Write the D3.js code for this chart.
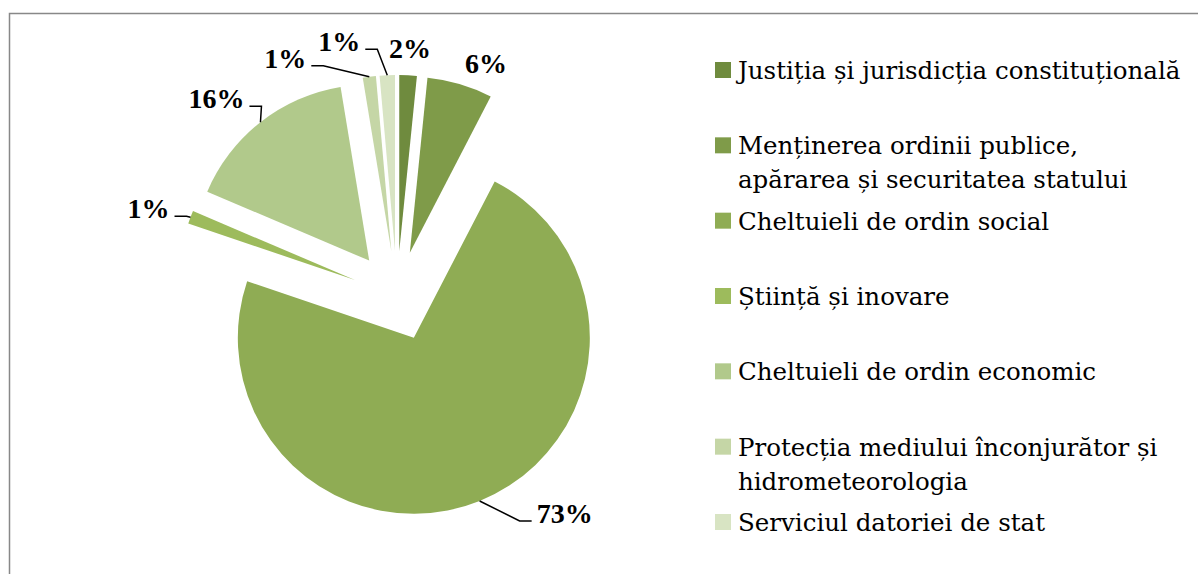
<!DOCTYPE html>
<meta charset="utf-8">
<title>pie</title>
<style>
  body { margin: 0; background: #fff; }
  svg { display: block; }
</style>
<svg id="chart"></svg>
<script src="https://cdn.jsdelivr.net/npm/d3@7"></script>
<script>
// data (share of total, %)
var categories = [
  "Justiția și jurisdicția constituțională",
  "Menținerea ordinii publice, apărarea și securitatea statului",
  "Cheltuieli de ordin social",
  "Știință și inovare",
  "Cheltuieli de ordin economic",
  "Protecția mediului înconjurător și hidrometeorologia",
  "Serviciul datoriei de stat"
];
var values = [1.6, 6.0, 72.6, 1.2, 16.0, 1.2, 1.4];
var legendLines = [
  ["Justiția și jurisdicția constituțională"],
  ["Menținerea ordinii publice,", "apărarea și securitatea statului"],
  ["Cheltuieli de ordin social"],
  ["Știință și inovare"],
  ["Cheltuieli de ordin economic"],
  ["Protecția mediului înconjurător și", "hidrometeorologia"],
  ["Serviciul datoriei de stat"]
];
var colors = ["#6f8b3e", "#7f9b49", "#8fac54", "#9dbb5c", "#b1c98b", "#c5d6a6", "#d8e4c3"];

var width = 1198, height = 574;
var cx = 397, cy = 296, radius = 176, explode = 45;

// label placement relative to the outer middle of each slice
var labelPos = [
  {dx: 2, dy: -17, anchor: "middle", leader: false},
  {dx: 26, dy: -11, anchor: "middle", leader: false},
  {dx: 57, dy: 22, anchor: "start", leader: true},
  {dx: -21, dy: 1, anchor: "end", leader: true},
  {dx: -16, dy: -14, anchor: "end", leader: true},
  {dx: -63, dy: -9, anchor: "end", leader: true},
  {dx: -27, dy: -24, anchor: "end", leader: true}
];

var svg = d3.select("#chart")
  .attr("width", width)
  .attr("height", height);

svg.append("rect")
  .attr("x", 9.5)
  .attr("y", 13.5)
  .attr("width", width + 20)
  .attr("height", height + 20)
  .attr("fill", "#fff")
  .attr("stroke", "#888")
  .attr("stroke-width", 1.5);

var pie = d3.pie().sort(null).value(function(d) { return d; });
var arcs = pie(values);
var arc = d3.arc().innerRadius(0).outerRadius(radius);

function mid(d) { return (d.startAngle + d.endAngle) / 2; }
function offset(d, r) {
  var a = mid(d);
  return [cx + r * Math.sin(a), cy - r * Math.cos(a)];
}

svg.append("g").selectAll("path")
  .data(arcs)
  .enter().append("path")
  .attr("d", arc)
  .attr("fill", function(d, i) { return colors[i]; })
  .attr("transform", function(d) {
    var p = offset(d, explode);
    return "translate(" + p[0] + "," + p[1] + ")";
  });

var labels = svg.append("g");
arcs.forEach(function(d, i) {
  var p = offset(d, explode + radius);
  var lp = labelPos[i];
  var tx = p[0] + lp.dx, ty = p[1] + lp.dy;
  var t = labels.append("text")
    .attr("x", tx)
    .attr("y", ty)
    .attr("text-anchor", lp.anchor)
    .attr("font-family", "'Liberation Serif', serif")
    .attr("font-weight", "bold")
    .attr("font-size", 28)
    .attr("fill", "#000")
    .text(Math.round(values[i]) + "%");
  if (lp.leader) {
    var bb = t.node().getBBox();
    var dir = lp.anchor === "start" ? -1 : 1;
    var sx = (lp.anchor === "start" ? bb.x : bb.x + bb.width) + dir * 5;
    var ly = ty - 2;
    labels.append("polyline")
      .attr("points", [[sx, ly], [sx + dir * 12, ly], p].map(function(q) { return q.join(","); }).join(" "))
      .attr("fill", "none")
      .attr("stroke", "#000")
      .attr("stroke-width", 1.5);
  }
});

var legendY = d3.scalePoint().domain(d3.range(categories.length)).range([70, 522]);
var legend = svg.append("g");
categories.forEach(function(c, i) {
  var y = legendY(i);
  legend.append("rect")
    .attr("x", 715)
    .attr("y", y - 8)
    .attr("width", 16)
    .attr("height", 16)
    .attr("fill", colors[i]);
  var t = legend.append("text")
    .attr("x", 738)
    .attr("y", y + 9)
    .attr("font-family", "'DejaVu Serif', serif")
    .attr("font-size", 24.5)
    .attr("fill", "#000");
  legendLines[i].forEach(function(line, j) {
    t.append("tspan")
      .attr("x", 738)
      .attr("dy", j === 0 ? 0 : 34)
      .text(line);
  });
});
</script>
